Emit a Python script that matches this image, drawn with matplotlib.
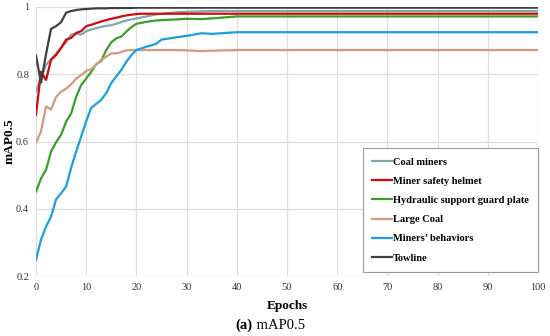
import matplotlib
matplotlib.use("Agg")
import matplotlib.pyplot as plt

plt.rcParams['font.family'] = ['Liberation Serif', 'DejaVu Serif']

epochs = [0, 1, 2, 3, 4, 5, 6, 7, 8, 9, 10, 11, 12, 13, 14, 15, 16, 17, 18, 19,
          20, 21, 22, 23, 24, 25, 28, 30, 33, 35, 40, 50, 60, 70, 80, 90, 100]

coal_miners = [0.748, 0.79, 0.828, 0.845, 0.862, 0.88, 0.895, 0.918, 0.92, 0.918,
               0.928, 0.933, 0.937, 0.941, 0.944, 0.946, 0.95, 0.955, 0.96, 0.963,
               0.966, 0.969, 0.972, 0.975, 0.978, 0.98, 0.984, 0.986, 0.987, 0.988,
               0.988, 0.988, 0.988, 0.988, 0.988, 0.988, 0.988]
helmet = [0.679, 0.808, 0.783, 0.843, 0.857, 0.878, 0.903, 0.908, 0.923, 0.928,
          0.943, 0.947, 0.952, 0.957, 0.961, 0.965, 0.968, 0.972, 0.975, 0.977,
          0.979, 0.98, 0.98, 0.98, 0.98, 0.98, 0.98, 0.98, 0.98, 0.98,
          0.98, 0.98, 0.98, 0.98, 0.98, 0.98, 0.98]
guard_plate = [0.451, 0.49, 0.516, 0.57, 0.598, 0.62, 0.659, 0.683, 0.733, 0.768,
               0.787, 0.807, 0.83, 0.84, 0.872, 0.895, 0.907, 0.912, 0.927, 0.94,
               0.95, 0.953, 0.956, 0.958, 0.96, 0.961, 0.963, 0.965, 0.964, 0.966,
               0.972, 0.972, 0.972, 0.972, 0.972, 0.972, 0.972]
large_coal = [0.597, 0.63, 0.704, 0.695, 0.733, 0.748, 0.757, 0.77, 0.787, 0.797,
              0.81, 0.815, 0.828, 0.843, 0.852, 0.862, 0.862, 0.866, 0.871, 0.872,
              0.872, 0.872, 0.872, 0.872, 0.872, 0.872, 0.872, 0.871, 0.869, 0.87,
              0.872, 0.872, 0.872, 0.872, 0.872, 0.872, 0.872]
behaviors = [0.248, 0.308, 0.347, 0.377, 0.428, 0.446, 0.466, 0.522, 0.57, 0.615,
             0.66, 0.70, 0.712, 0.724, 0.744, 0.774, 0.794, 0.813, 0.837, 0.857,
             0.872, 0.877, 0.882, 0.886, 0.891, 0.903, 0.91, 0.914, 0.922, 0.92,
             0.925, 0.925, 0.925, 0.925, 0.925, 0.925, 0.925]
towline = [0.855, 0.775, 0.86, 0.935, 0.943, 0.955, 0.983, 0.988, 0.991, 0.993,
           0.994, 0.995, 0.996, 0.996, 0.996, 0.997, 0.997, 0.997, 0.997, 0.997,
           0.998, 0.998, 0.998, 0.998, 0.998, 0.998, 0.998, 0.998, 0.998, 0.998,
           0.998, 0.998, 0.998, 0.998, 0.998, 0.998, 0.998]

series = [
    ("Coal miners", coal_miners, "#7fa8ab"),
    ("Miner safety helmet", helmet, "#d00a0a"),
    ("Hydraulic support guard plate", guard_plate, "#3a9e2a"),
    ("Large Coal", large_coal, "#d6977c"),
    ("Miners\u2019 behaviors", behaviors, "#1a9de2"),
    ("Towline", towline, "#404040"),
]

fig = plt.figure(figsize=(5.5, 3.36), dpi=100)
ax = fig.add_axes([36 / 550, 60 / 336, 502 / 550, 269 / 336])

for name, vals, col in series:
    ax.plot(epochs, vals, color=col, lw=1.6, label=name)

ax.set_xlim(0, 100)
ax.set_ylim(0.2, 1.0)
ax.set_xticks(range(0, 101, 10))
ax.set_yticks([0.2, 0.4, 0.6, 0.8, 1.0])
ax.set_yticklabels(["0.2", "0.4", "0.6", "0.8", "1"])
ax.grid(True, color="#dedede", lw=0.9)
ax.set_axisbelow(True)
for s in ax.spines.values():
    s.set_visible(False)
ax.tick_params(length=0, labelsize=7.5, colors="#333333", pad=5)

ax.set_xlabel("Epochs", fontsize=9.5, fontweight="bold", labelpad=5.5)
ax.set_ylabel("mAP0.5", fontsize=9.5, fontweight="bold")
ax.yaxis.set_label_coords(-0.04, 0.5)

leg = ax.legend(loc="lower right", bbox_to_anchor=(1.0, 0.015), fancybox=False,
                edgecolor="#999999", framealpha=1, handlelength=1.9,
                handletextpad=0.1, labelspacing=0.95, borderpad=0.9,
                borderaxespad=0, prop={"size": 7.5, "weight": "bold"})
leg.get_frame().set_linewidth(0.8)

fig.text(0.46, 0.02, "(a)", ha="right", fontsize=10.5, fontweight="bold")
fig.text(0.46, 0.02, " mAP0.5", ha="left", fontsize=10.5)

fig.savefig("out.png", dpi=100)
